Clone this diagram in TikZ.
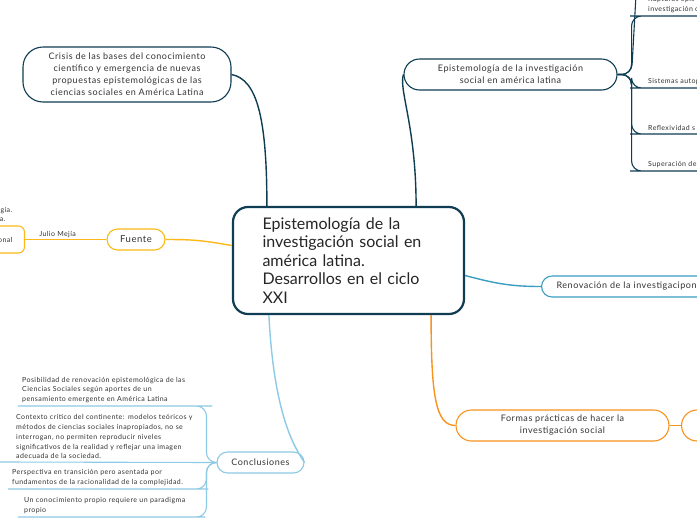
\documentclass[tikz,border=0pt]{standalone}
\usepackage{fontspec}
\setmainfont{Lato}
\newfontfamily\mapfont[LetterSpace=6]{Lato}
\usepackage{tikz}
\usetikzlibrary{positioning}
\definecolor{deepteal}{HTML}{0F3D52}
\definecolor{renoblue}{HTML}{3A9DC2}
\definecolor{conclblue}{HTML}{8CCAE6}
\definecolor{formorange}{HTML}{F7931E}
\definecolor{fuenteamber}{HTML}{FBBA18}
\definecolor{textgray}{HTML}{333333}

\begin{document}
\begin{tikzpicture}[
x=1pt, y=-1pt,
topic/.style={
    rectangle,
    draw=deepteal,
    line width=1.1pt,
    fill=white,
    align=center,
    inner sep=0pt,
    text=textgray,
    font=\mapfont\fontsize{9}{12}\selectfont
},
leaf/.style={
    anchor=south west,
    align=left,
    inner ysep=3pt,
    text=textgray,
    font=\mapfont\fontsize{7}{9.7}\selectfont
},
mainline/.style={line width=1.4pt},
branch/.style={line width=1.1pt, rounded corners=10pt}
]
\useasboundingbox (0,0) rectangle (697,520);
\clip (0,0) rectangle (697,520);
\fill[white] (0,0) rectangle (697,520);

% Main topic
\node[topic, line width=2.2pt, rounded corners=15pt, minimum width=231pt,
      minimum height=107pt, text width=172pt, align=left, text=black!85,
      font=\fontsize{16}{18.5}\selectfont] (central) at (348.5,260.5)
{Epistemología de la\\investigación social en\\américa latina.\\Desarrollos en el ciclo\\XXI};

% Subtopics
\node[topic, rounded corners=20pt, minimum width=208pt, minimum height=55pt] (crisis) at (127,74.5)
{Crisis de las bases del conocimiento\\científico y emergencia de nuevas\\propuestas epistemológicas de las\\ciencias sociales en América Latina};

\node[topic, rounded corners=15.5pt, minimum width=213pt, minimum height=31pt] (episte) at (510.5,74.5)
{Epistemología de la investigación\\social en américa latina};

\node[topic, draw=renoblue, rounded corners=10.5pt, minimum height=21pt, text width=170pt,
      align=left, inner xsep=15pt, anchor=west] (renova) at (541,286.5)
{Renovación de la investigacipon};

\node[topic, draw=formorange, rounded corners=15.5pt, minimum width=213pt, minimum height=31pt] (formas) at (562.5,425.5)
{Formas prácticas de hacer la\\investigación social};

\node[topic, draw=formorange, rounded corners=15.5pt, minimum width=120pt, minimum height=31pt,
      anchor=west] (formasnext) at (681,425.5) {};

\node[topic, draw=fuenteamber, rounded corners=10.5pt, minimum width=58pt, minimum height=21pt,
      font=\mapfont\fontsize{9.5}{11}\selectfont] (fuente) at (136,239.5) {Fuente};

\node[topic, draw=conclblue, rounded corners=10.5pt, minimum width=87pt, minimum height=21pt] (concl) at (260.5,462.5) {Conclusiones};

% Fuente side
\node[topic, draw=fuenteamber, rounded corners=6pt, minimum height=27pt, inner xsep=12pt,
      anchor=east, font=\mapfont\fontsize{7}{9}\selectfont] (onal) at (25,239.5) {onal};
\node[anchor=west, align=left, inner sep=0pt, text=textgray,
      font=\mapfont\fontsize{7}{9}\selectfont] (fuentenote) at (-4,214.5) {ogía.\\ca.};

% Epistemologia items
\node[leaf, text width=150pt, inner xsep=8pt] (ruptura) at (640,16) {Rupturas epis\\investigación c};
\node[leaf, text width=150pt, inner xsep=8pt] (sistemas) at (640,88) {Sistemas autop};
\node[leaf, text width=150pt, inner xsep=8pt] (reflex) at (640,134) {Reflexividad s};
\node[leaf, text width=150pt, inner xsep=8pt] (supera) at (640,171) {Superación de};
\coordinate (offtop) at (636,-5);

% Conclusiones items
\node[leaf, text width=176pt, inner xsep=4pt] (posib) at (18,406)
{Posibilidad de renovación epistemológica de las\\Ciencias Sociales según aportes de un\\pensamiento emergente en América Latina};
\node[leaf, text width=185pt, inner xsep=16pt] (contexto) at (0,462)
{Contexto crítico del continente: modelos teóricos y\\métodos de ciencias sociales inapropiados, no se\\interrogan, no permiten reproducir niveles\\significativos de la realidad y reflejar una imagen\\adecuada de la sociedad.};
\node[leaf, text width=182pt, inner xsep=4pt] (perspec) at (8,489)
{Perspectiva en transición pero asentada por\\fundamentos de la racionalidad de la complejidad.};
\node[leaf, text width=165pt, inner xsep=6pt] (propio) at (18,517)
{Un conocimiento propio requiere un paradigma\\propio};

% Connections from main topic
\draw[mainline, deepteal] ([xshift=35pt]central.north west) .. controls +(0,-90) and +(25,5) .. (crisis.east);
\draw[mainline, deepteal] ([xshift=-49pt]central.north east) .. controls +(0,-80) and +(-5,15) .. (episte.west);
\draw[mainline, renoblue] ([yshift=-15pt]central.east) .. controls +(30,8) and +(-30,0) .. (renova.west);
\draw[mainline, formorange] ([xshift=-34pt]central.south east) .. controls +(0,80) and +(-20,0) .. (formas.west);
\draw[mainline, fuenteamber] ([yshift=15pt]central.west) .. controls +(-30,-5) and +(30,0) .. (fuente.east);
\draw[mainline, conclblue] ([xshift=37pt]central.south west) .. controls +(5,100) and +(-10,-15) .. (concl.east);

\draw[mainline, formorange] (formas.east) -- (formasnext.west);
\draw[line width=1.1pt, fuenteamber] (fuente.west) -- node[pos=0.6, above=1pt, inner sep=0pt, text=textgray,
      font=\mapfont\fontsize{7}{9}\selectfont] {Julio Mejía} (onal.east);

% Branches
\draw[branch, deepteal] (episte.east) -- ++(14,0) -- (offtop);
\draw[branch, deepteal] (episte.east) -- ++(14,0) |- (ruptura.south west) -- (ruptura.south east);
\draw[branch, deepteal] (episte.east) -- ++(14,0) |- (sistemas.south west) -- (sistemas.south east);
\draw[branch, deepteal] (episte.east) -- ++(14,0) |- (reflex.south west) -- (reflex.south east);
\draw[branch, deepteal] (episte.east) -- ++(14,0) |- (supera.south west) -- (supera.south east);

\draw[branch, conclblue] (concl.west) -- ++(-10,0) |- (posib.south east) -- (posib.south west);
\draw[branch, conclblue] (concl.west) -- (contexto.south west);
\draw[branch, conclblue] (concl.west) -- ++(-10,0) |- (perspec.south east) -- (perspec.south west);
\draw[branch, conclblue] (concl.west) -- ++(-10,0) |- (propio.south east) -- (propio.south west);

\end{tikzpicture}
\end{document}
